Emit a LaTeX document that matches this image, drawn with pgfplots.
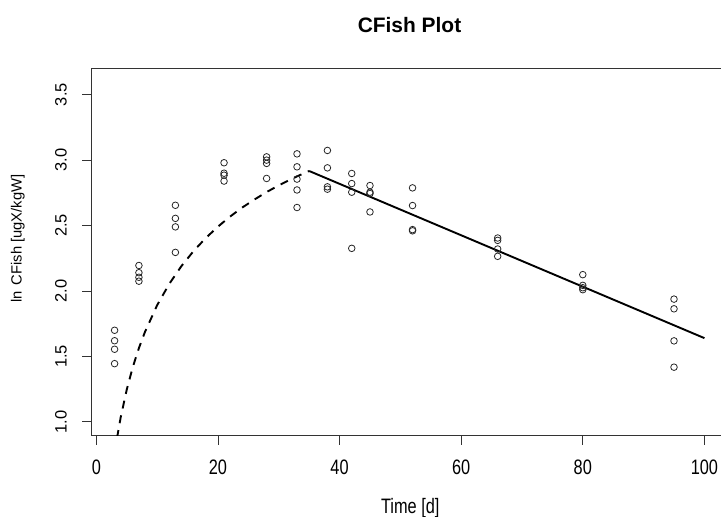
\documentclass[border=0pt]{standalone}
\usepackage{graphicx}
\usepackage{pgfplots}
\pgfplotsset{compat=1.18}
\usepackage{fontspec}
\setmainfont{Liberation Sans}

% axis text is set slightly taller than wide
\newcommand\tall[1]{\scalebox{1}[1.28]{#1}}

\begin{document}
\begin{tikzpicture}
\useasboundingbox (0bp,0bp) rectangle (721bp,517bp);
\clip (0bp,0bp) rectangle (721bp,517bp);
\begin{axis}[
  at={(91bp,81.5bp)}, anchor=south west,
  scale only axis, width=637bp, height=367.5bp,
  xmin=-0.88, xmax=103.88, ymin=0.896, ymax=3.704,
  axis line style={draw=black!80, line width=0.9bp},
  tick style={draw=black!80, line width=0.9bp},
  tick align=outside, major tick length=9bp,
  xtick pos=bottom, ytick pos=left,
  xtick={0,20,40,60,80,100},
  xticklabels={\tall{0},\tall{20},\tall{40},\tall{60},\tall{80},\tall{100}},
  ytick={1.0,1.5,2.0,2.5,3.0,3.5},
  yticklabels={1.0,1.5,2.0,2.5,3.0,3.5},
  xticklabel style={font=\fontsize{16.4}{19}\selectfont, anchor=north, inner sep=0pt, yshift=-15bp},
  % the shift is taken in the rotated frame: +y moves the label left
  yticklabel style={font=\fontsize{16.5}{19}\selectfont, rotate=90, anchor=south, inner sep=0pt, yshift=15bp},
  clip=true,
]
% measured concentrations
\addplot[only marks, mark=o, mark size=3.3bp, mark options={line width=0.8bp, draw=black!85}] coordinates {
  (3,1.700) (3,1.620) (3,1.555) (3,1.445)
  (7,2.195) (7,2.140) (7,2.105) (7,2.075)
  (13,2.655) (13,2.555) (13,2.490) (13,2.295)
  (21,2.980) (21,2.900) (21,2.885) (21,2.840)
  (28,3.025) (28,3.000) (28,2.975) (28,2.860)
  (33,3.048) (33,2.949) (33,2.855) (33,2.772) (33,2.638)
  (38,3.074) (38,2.941) (38,2.796) (38,2.778)
  (42,2.898) (42,2.821) (42,2.755) (42,2.326)
  (45,2.806) (45,2.755) (45,2.745) (45,2.604)
  (52,2.788) (52,2.653) (52,2.469) (52,2.460)
  (66,2.405) (66,2.387) (66,2.321) (66,2.265)
  (80,2.125) (80,2.043) (80,2.025) (80,2.010)
  (95,1.938) (95,1.864) (95,1.619) (95,1.418)
};
% uptake phase
\addplot[black, line width=1.9bp, dash pattern=on 8bp off 7bp] coordinates {
  (3.4,0.877) (4,1.034) (5,1.247) (6,1.420) (7,1.564) (8,1.688)
  (10,1.892) (12,2.055) (14,2.191) (16,2.306) (18,2.405) (20,2.492)
  (22,2.569) (24,2.638) (26,2.699) (28,2.756) (30,2.807) (32,2.854)
  (34,2.897) (35,2.917)
};
% depuration phase
\addplot[black, line width=1.9bp] coordinates {(35,2.917) (100,1.640)};
\end{axis}
\node[font=\bfseries\fontsize{21}{25}\selectfont, anchor=base] at (409.5bp,484bp) {CFish Plot};
\node[font=\fontsize{16.4}{19}\selectfont, anchor=base] at (410.3bp,3.5bp) {\tall{Time [d]}};
\node[font=\fontsize{14.8}{18}\selectfont, anchor=base, rotate=90] at (21.5bp,278.5bp) {ln\hspace{1.5bp} CFish [ugX/kgW]};
\end{tikzpicture}
\end{document}
